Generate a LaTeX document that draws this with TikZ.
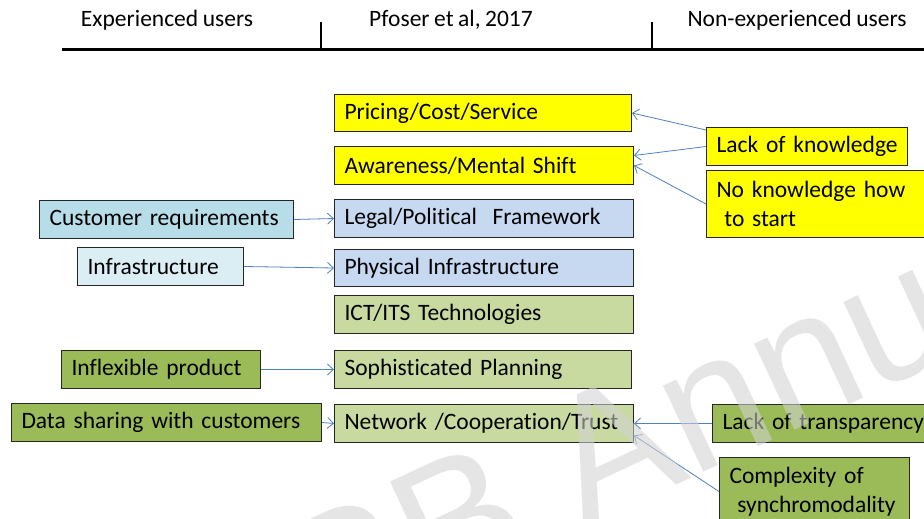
\documentclass[tikz,border=0pt]{standalone}
\usepackage{fontspec}
\setmainfont{Carlito}[Ligatures={NoCommon}, WordSpace=0.85]
\newfontfamily\wmfont{Liberation Sans}
\usetikzlibrary{arrows.meta}
\definecolor{ylw}{RGB}{255,255,0}
\definecolor{bluebox}{RGB}{198,217,241}
\definecolor{lgreen}{RGB}{200,218,160}
\definecolor{dgreen}{RGB}{155,187,89}
\definecolor{teal1}{RGB}{183,222,232}
\definecolor{teal2}{RGB}{219,238,244}
\definecolor{arrblue}{RGB}{79,129,189}
\definecolor{wmark}{RGB}{210,210,210}
\tikzset{
  box/.style={draw=black!85, line width=1pt, anchor=north west, inner xsep=10pt, inner ysep=0pt, align=left, font=\fontsize{23.5}{29}\selectfont},
  hdr/.style={font=\fontsize{23.5}{28}\selectfont, anchor=center},
  arr/.style={draw=arrblue, line width=0.8pt, -{Straight Barb[length=6pt,width=11pt,line width=0.8pt]}},
}
\newcommand{\bx}[7]{\node[box, fill=#6, text width=#4pt-20pt, minimum height=#5pt] (#1) at (#2,#3) {#7};}
\begin{document}
\begin{tikzpicture}[x=1pt,y=-1pt]
\useasboundingbox (0,0) rectangle (924,519);
\clip (0,0) rectangle (924,519);
\fill[white] (0,0) rectangle (924,519);
% header
\node[hdr] (h1) at (167,20) {Experienced users};
\node[hdr] (h2) at (451,20) {Pfoser et al, 2017};
\node[hdr] (h3) at (797,20) {Non-experienced users};
\coordinate (la) at (62,50);
\coordinate (lb) at (924,50);
\coordinate (t1) at (321,50);
\coordinate (t2) at (652,50);
\draw[line width=3pt] (la) -- (lb);
\draw[line width=2pt] (t1) -- ++(0,-28);
\draw[line width=2pt] (t2) -- ++(0,-28);
% middle column
\bx{pr}{334}{94}{297}{37}{ylw}{\mbox{Pricing/Cost/Service}}
\bx{aw}{334}{146}{299}{38}{ylw}{\mbox{Awareness/Mental Shift}}
\bx{lg}{334}{199}{299}{38}{bluebox}{\mbox{Legal/Political\ \ Framework}}
\bx{ph}{334}{249}{299}{37}{bluebox}{\mbox{Physical Infrastructure}}
\bx{ict}{334}{295}{299}{38}{lgreen}{\mbox{ICT/ITS Technologies}}
\bx{sp}{334}{350}{297}{38}{lgreen}{\mbox{Sophisticated Planning}}
\bx{nw}{334}{404}{299}{38}{lgreen}{\mbox{Network /Cooperation/Trust}}
% left column
\bx{cr}{39}{200}{254}{38}{teal1}{\mbox{Customer requirements}}
\bx{inf}{77}{247}{166}{38}{teal2}{\mbox{Infrastructure}}
\bx{ifp}{61}{350}{199}{38}{dgreen}{\mbox{Inflexible product}}
\bx{ds}{11}{403}{310}{38}{dgreen}{\mbox{Data sharing with customers}}
% right column
\bx{lk}{706}{127}{201}{38}{ylw}{\mbox{Lack of knowledge}}
\bx{nk}{706}{170}{230}{67}{ylw}{\mbox{No knowledge how}\\\mbox{\ to start}}
\bx{lt}{712}{404}{230}{38}{dgreen}{\mbox{Lack of transparency}}
\bx{cx}{719}{457}{190}{68}{dgreen}{\mbox{Complexity of}\\\mbox{\ synchromodality}}
% arrows
\draw[arr] ([yshift=-3pt]lk.north west) -- (pr.east);
\draw[arr] (lk.west) -- ([yshift=10pt]aw.east);
\draw[arr] (nk.west) -- (aw.east);
\draw[arr] (cr.east) -- (lg.west);
\draw[arr] (inf.east) -- (ph.west);
\draw[arr] (ifp.east) -- (sp.west);
\draw[arr] (ds.east) -- (nw.west);
\draw[arr] (lt.west) -- (nw.east);
\draw[arr] (cx.west) -- ([yshift=-12pt]nw.east);
% watermark
\node[anchor=base west, rotate=25, text=wmark, opacity=0.57, inner sep=0pt, font=\wmfont\fontsize{180}{180}\selectfont] (wm) at (212,702) {TRB Annual};
\end{tikzpicture}
\end{document}
